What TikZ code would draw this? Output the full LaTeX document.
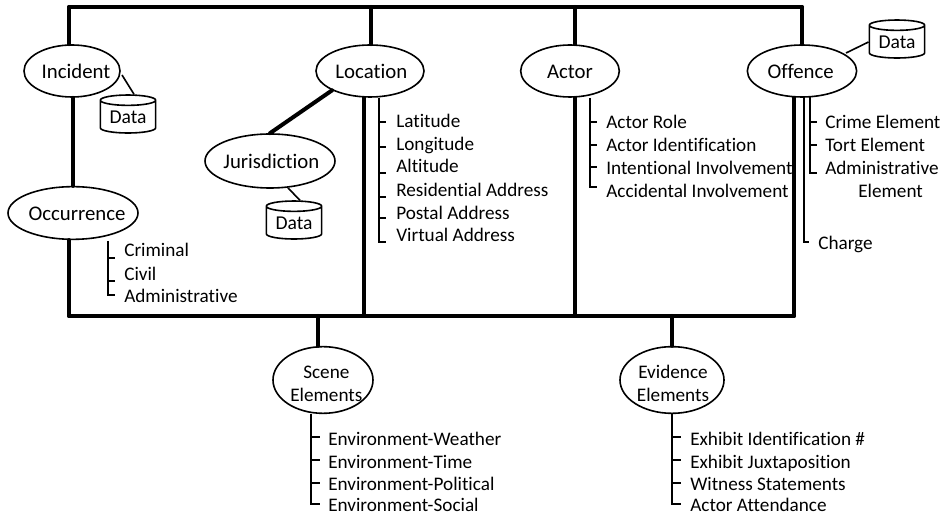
\documentclass[tikz,border=0pt]{standalone}
\usepackage{fontspec}
\setmainfont[Ligatures=NoCommon]{Carlito}
\usetikzlibrary{shapes.geometric}
\tikzset{
 x=0.75pt,y=-0.75pt,
 heavy/.style={line width=3pt,line cap=round},
 thin line/.style={line width=1.2pt},
 tree/.style={line width=1.3pt},
 oval/.style={ellipse,draw,line width=1.2pt,inner xsep=-22pt,inner ysep=-6pt,align=center,font=\fontsize{15.6pt}{16.5pt}\selectfont},
 twoline/.style={font=\fontsize{14.4pt}{17pt}\selectfont},
 item/.style={anchor=west,inner sep=0pt,text height=10pt,text depth=3pt,yshift=-1.2pt,font=\fontsize{14.4pt}{17pt}\selectfont},
 cyl/.style={cylinder,shape border rotate=90,aspect=0.28,draw,line width=1.2pt,minimum width=41.5pt,minimum height=28.5pt,inner sep=0pt,font=\fontsize{14.7pt}{17pt}\selectfont},
}
\newcommand{\cyltext}{\raisebox{-3.5pt}{Data}}
\newcommand{\lbl}[1]{#1\rule[-3pt]{0pt}{18pt}}
\begin{document}
\begin{tikzpicture}
\useasboundingbox (0,0) rectangle (943,516);
% frame
\coordinate (tl) at (69,7); \coordinate (tr) at (802,7);
\coordinate (bl) at (69,316); \coordinate (br) at (794,316);
\draw[heavy] (bl) -- (br);
\draw[heavy] (tl) -- (tr);
% ovals
\node[oval,minimum width=72pt,minimum height=39pt] (inc) at (72,71) {\hspace*{6pt}\lbl{Incident}};
\node[oval,minimum width=97.5pt,minimum height=39.5pt] (occ) at (73,213) {\hspace*{6pt}\lbl{Occurrence}};
\node[oval,minimum width=81pt,minimum height=39pt] (loc) at (370,71) {\hspace*{2pt}\lbl{Location}};
\node[oval,minimum width=97.5pt,minimum height=40.5pt] (jur) at (270,161) {\hspace*{2pt}\lbl{Jurisdiction}};
\node[oval,minimum width=74pt,minimum height=39pt] (act) at (570,71) {\lbl{Actor}};
\node[oval,minimum width=82pt,minimum height=39pt] (off) at (802,71) {\hspace*{-2pt}\lbl{Offence}};
\node[oval,twoline,minimum width=75pt,minimum height=50pt] (sce) at (323,380) {\rule{0pt}{15pt}\hspace*{5pt}Scene\\\hspace*{5pt}Elements};
\node[oval,twoline,minimum width=78pt,minimum height=50pt] (evi) at (672,380) {\rule{0pt}{15pt}\hspace*{1.5pt}Evidence\\\hspace*{1.5pt}Elements};
% data
\node[cyl] (d1) at (128,117) {\cyltext};
\node[cyl] (d2) at (294,223) {\cyltext};
\node[cyl] (d3) at (897,42) {\cyltext};
% heavy connectors
\draw[heavy] (tl) -- (inc.north -| tl);
\draw[heavy] (inc.south -| occ.north) -- (occ.north);
\draw[heavy] (occ.south -| bl) -- (bl);
\coordinate (t2) at (371,7); \coordinate (t3) at (575,7);
\coordinate (b2) at (364,316); \coordinate (b3) at (575,316);
\coordinate (b4) at (318,316); \coordinate (b5) at (672,316);
\draw[heavy] (t2) -- (loc.north -| t2);
\draw[heavy] (loc.south -| b2) -- (b2);
\draw[heavy] (t3) -- (act.north -| t3);
\draw[heavy] (act.south -| b3) -- (b3);
\draw[heavy] (tr) -- (off.north -| tr);
\draw[heavy] (off.south -| br) -- (br);
\draw[heavy] (b4) -- (sce.north -| b4);
\draw[heavy] (b5) -- (evi.north -| b5);
\draw[heavy] (loc.207) -- (jur.north);
% thin connectors
\coordinate (q1) at (122,75);
\coordinate (q2) at (288,188);
\coordinate (q3) at (846,53);
\draw[thin line] (q1) -- (d1.75);
\draw[thin line] (q2) -- (d2.75);
\draw[thin line] (q3) -- (d3.west);
% lists
\draw[tree] (108,241) -- (108,295) -- (115,295); \draw[tree] (108,258) -- (115,258); \draw[tree] (108,281) -- (115,281);
\node[item] (c1) at (124,250) {Criminal};
\node[item] (c2) at (124,274) {Civil};
\node[item] (c3) at (124,296) {Administrative};
\draw[tree] (379,98) -- (379,242) -- (386,242);
\foreach \yy in {122,147,173,197,218} \draw[tree] (379,\yy) -- (386,\yy);
\node[item] (l1) at (396,121) {Latitude};
\node[item] (l2) at (396,144) {Longitude};
\node[item] (l3) at (396,166) {Altitude};
\node[item] (l4) at (396,190) {Residential Address};
\node[item] (l5) at (396,213) {Postal Address};
\node[item] (l6) at (396,235) {Virtual Address};
\draw[tree] (590,98) -- (590,187) -- (597,187);
\foreach \yy in {122,145,167} \draw[tree] (590,\yy) -- (597,\yy);
\node[item] (a1) at (606,122) {Actor Role};
\node[item] (a2) at (606,145) {Actor Identification};
\node[item] (a3) at (606,168) {Intentional Involvement};
\node[item] (a4) at (606,191) {Accidental Involvement};
\draw[tree] (810,97) -- (810,173) -- (817,173);
\foreach \yy in {122,145} \draw[tree] (810,\yy) -- (817,\yy);
\node[item] (o1) at (825,122) {Crime Element};
\node[item] (o2) at (825,145) {Tort Element};
\node[item] (o3) at (825,168) {Administrative};
\node[item] (o4) at (858,191) {Element};
\draw[tree] (804,97) -- (804,242) -- (809,242);
\node[item] (ch) at (818,243) {Charge};
\draw[tree] (311,414) -- (311,504) -- (320,504);
\foreach \yy in {437,460,483} \draw[tree] (311,\yy) -- (320,\yy);
\node[item] (s1) at (328,439) {Environment-Weather};
\node[item] (s2) at (328,462) {Environment-Time};
\node[item] (s3) at (328,484) {Environment-Political};
\node[item] (s4) at (328,505.5) {Environment-Social};
\draw[tree] (672,414) -- (672,504) -- (681,504);
\foreach \yy in {437,460,483} \draw[tree] (672,\yy) -- (681,\yy);
\node[item] (e1) at (690,439) {Exhibit Identification \#};
\node[item] (e2) at (690,462) {Exhibit Juxtaposition};
\node[item] (e3) at (690,484) {Witness Statements};
\node[item] (e4) at (690,505.5) {Actor Attendance};
\end{tikzpicture}
\end{document}
